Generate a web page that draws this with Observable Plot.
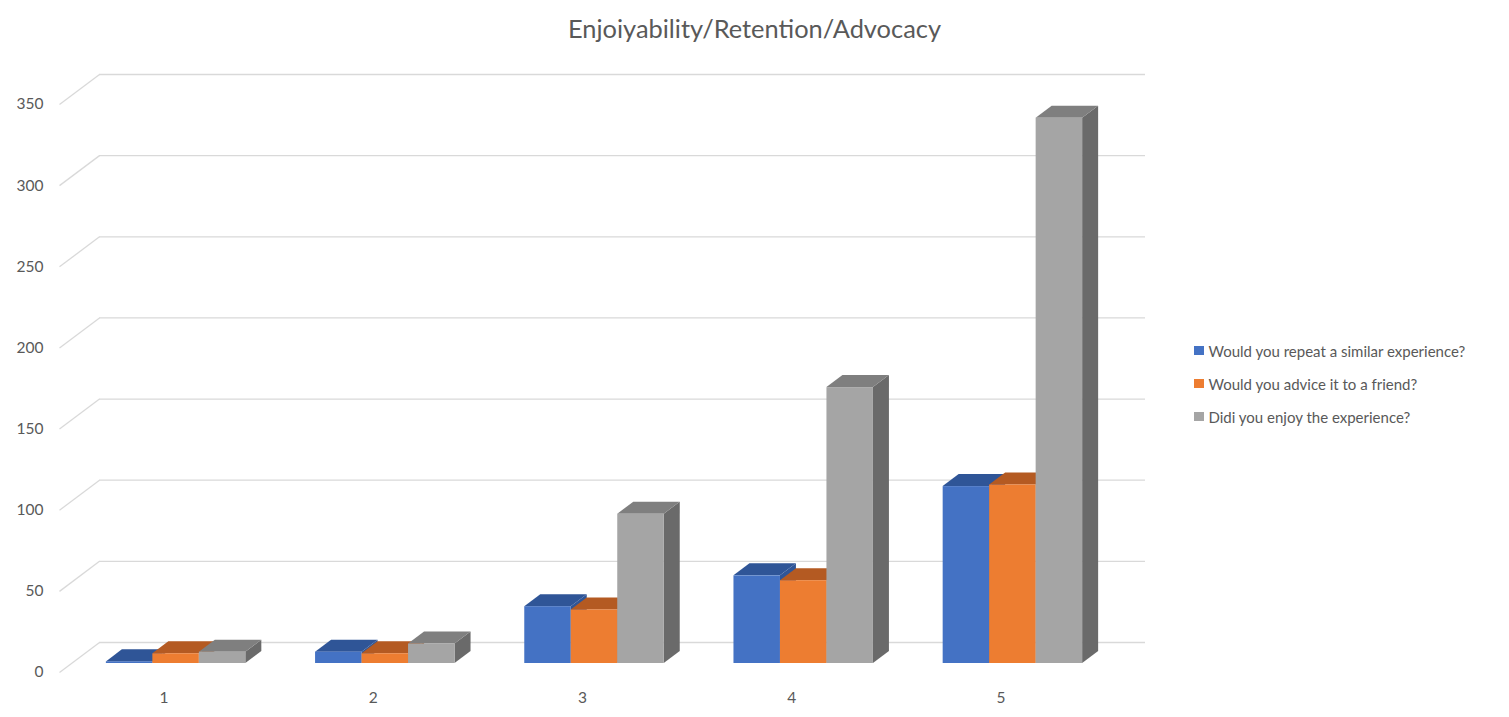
<!DOCTYPE html>
<html>
<head>
<meta charset="utf-8">
<script src="https://cdn.jsdelivr.net/npm/d3@7"></script>
<script src="https://cdn.jsdelivr.net/npm/@observablehq/plot@0.6"></script>
<style>
  html, body { margin: 0; padding: 0; background: #fff; }
  #wrap { position: relative; width: 1509px; height: 717px; overflow: hidden; font-family: Lato, "Open Sans", sans-serif; color: #595959; }
  #title { height: 50px; line-height: 56px; text-align: center; font-size: 25.4px; color: #595959; }
  #legend { position: absolute; left: 1194px; top: 334px; font-size: 15px; color: #595959; }
  #legend .row { display: flex; align-items: center; height: 33px; }
  #legend .sw { width: 9.5px; height: 9.5px; margin-right: 5px; }
</style>
</head>
<body>
<div id="wrap">
  <div id="title">Enjoiyability/Retention/Advocacy</div>
  <div id="chart"></div>
  <div id="legend"></div>
</div>
<script>
// ---- data ----
const categories = [1, 2, 3, 4, 5];
const series = [
  "Would you repeat a similar experience?",
  "Would you advice it to a friend?",
  "Didi you enjoy the experience?"
];
const repeatValues = [1, 7, 35, 54, 109];
const adviceValues = [6, 6, 33, 51, 110];
const enjoyValues = [7, 12, 92, 170, 336];
const yTicks = [0, 50, 100, 150, 200, 250, 300, 350];

// ---- styles ----
const frontColors = ["#4472c4", "#ed7d31", "#a5a5a5"];
const topColors = ["#2f5597", "#b45a22", "#7f7f7f"];
const sideColors = ["#2f5597", "#ae5a21", "#6a6a6a"];
const gridColor = "#d9d9d9";

// ---- 3D projection (oblique), expressed in data units ----
const seriesValues = [repeatValues, adviceValues, enjoyValues];
const bw = 1 / 4.5;          // bar width (gap width 150%)
const DX = 0.1912;           // full depth, x data units
const DY = 18.49;            // full depth, y data units
const zF = 0.3, zB = 0.7;    // bar front / back depth
const xMin = 0.5, xMax = 5.5;

const bars = categories.flatMap((c, i) => series.map((s, j) => {
  const x1 = c - 1.5 * bw + j * bw;
  return { c, s, j, v: seriesValues[j][i], x1, x2: x1 + bw };
}));

const P = (x, v, z) => ({ x: x + z * DX, y: v + z * DY });

function topRows(b) {
  const A = P(b.x1, b.v, zF), B = P(b.x2, b.v, zF), C = P(b.x2, b.v, zB), D = P(b.x1, b.v, zB);
  const key = b.c + "-" + b.j;
  return [
    { key, j: b.j, x1: A.x, y1: A.y, x2: D.x, y2: D.y },
    { key, j: b.j, x1: B.x, y1: B.y, x2: C.x, y2: C.y }
  ];
}
function sideRows(b) {
  const A = P(b.x2, 0, zF), B = P(b.x2, b.v, zF), C = P(b.x2, b.v, zB), D = P(b.x2, 0, zB);
  const key = b.c + "-" + b.j;
  return [
    { key, j: b.j, x1: A.x, y1: A.y, x2: D.x, y2: D.y },
    { key, j: b.j, x1: B.x, y1: B.y, x2: C.x, y2: C.y }
  ];
}
const tops = bars.flatMap(topRows);
const sides = bars.flatMap(sideRows);

const marks = [
  // back wall gridlines
  Plot.ruleY(yTicks, { y: v => v + DY, x1: xMin + DX, x2: xMax + DX, stroke: gridColor, strokeWidth: 1.3 }),
  // left side wall gridlines
  Plot.link(yTicks, { x1: xMin, y1: v => v, x2: xMin + DX, y2: v => v + DY, stroke: gridColor, strokeWidth: 1.3 })
];
series.forEach((s, j) => {
  marks.push(Plot.area(sides.filter(d => d.j === j), { x1: "x1", y1: "y1", x2: "x2", y2: "y2", z: "key", fill: sideColors[j] }));
});
series.forEach((s, j) => {
  marks.push(Plot.area(tops.filter(d => d.j === j), { x1: "x1", y1: "y1", x2: "x2", y2: "y2", z: "key", fill: topColors[j] }));
});
series.forEach((s, j) => {
  marks.push(Plot.rect(bars.filter(d => d.j === j), {
    x1: d => d.x1 + zF * DX, x2: d => d.x2 + zF * DX,
    y1: zF * DY, y2: d => d.v + zF * DY,
    fill: frontColors[j]
  }));
});

const chart = Plot.plot({
  width: 1160,
  height: 667,
  marginLeft: 59,
  marginRight: 55,
  marginTop: 54,
  marginBottom: 45,
  style: { fontFamily: "Lato, 'Open Sans', sans-serif", fontSize: "15.5px", color: "#595959", background: "transparent" },
  x: { type: "linear", domain: [xMin, xMax], ticks: categories, tickFormat: d => String(d), tickSize: 0, tickPadding: 19, label: null },
  y: { domain: [0, 350], ticks: yTicks, tickSize: 0, tickPadding: 16, label: null },
  marks
});
document.getElementById("chart").appendChild(chart);

// legend
const legend = document.getElementById("legend");
series.forEach((s, j) => {
  const row = document.createElement("div");
  row.className = "row";
  const sw = document.createElement("span");
  sw.className = "sw";
  sw.style.background = frontColors[j];
  const t = document.createElement("span");
  t.textContent = s;
  row.appendChild(sw);
  row.appendChild(t);
  legend.appendChild(row);
});
</script>
</body>
</html>
